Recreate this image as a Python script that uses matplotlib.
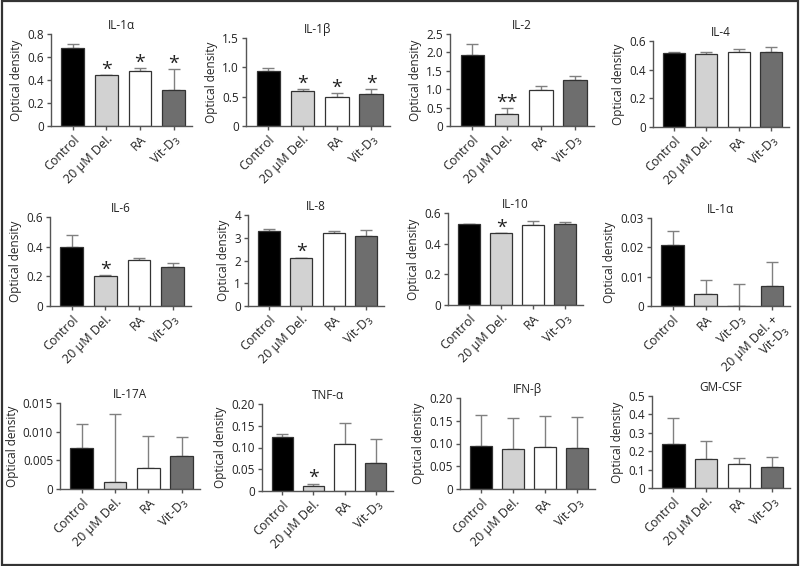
import matplotlib
matplotlib.use("Agg")
import matplotlib.pyplot as plt
from matplotlib.patches import Rectangle

plt.rcParams['font.family'] = ['Open Sans', 'DejaVu Sans']

# ---- data ----
groups = ['Control', '20 μM Del.', 'RA', 'Vit-D$_3$']
groups_alt = ['Control', 'RA', 'Vit-D$_3$', '20 μM Del. +\nVit-D$_3$']

il1a_mean = [0.68, 0.44, 0.48, 0.315]
il1a_err = [0.035, 0.0, 0.025, 0.18]
il1a_sig = ['', '*', '*', '*']

il1b_mean = [0.94, 0.60, 0.50, 0.55]
il1b_err = [0.05, 0.025, 0.06, 0.08]
il1b_sig = ['', '*', '*', '*']

il2_mean = [1.94, 0.32, 0.97, 1.25]
il2_err = [0.30, 0.16, 0.11, 0.10]
il2_sig = ['', '**', '', '']

il4_mean = [0.515, 0.512, 0.523, 0.523]
il4_err = [0.005, 0.014, 0.024, 0.035]

il6_mean = [0.40, 0.20, 0.31, 0.26]
il6_err = [0.08, 0.008, 0.016, 0.03]
il6_sig = ['', '*', '', '']

il8_mean = [3.28, 2.12, 3.21, 3.07]
il8_err = [0.09, 0.0, 0.08, 0.25]
il8_sig = ['', '*', '', '']

il10_mean = [0.53, 0.469, 0.522, 0.528]
il10_err = [0.0, 0.0, 0.026, 0.013]
il10_sig = ['', '*', '', '']

il1a2_mean = [0.0209, 0.004, 0.0, 0.0067]
il1a2_err = [0.0047, 0.005, 0.0075, 0.0083]

il17a_mean = [0.0071, 0.0013, 0.0036, 0.0057]
il17a_err = [0.0042, 0.0118, 0.0056, 0.0033]

tnfa_mean = [0.123, 0.0107, 0.107, 0.0636]
tnfa_err = [0.007, 0.0062, 0.049, 0.057]
tnfa_sig = ['', '*', '', '']

ifnb_mean = [0.095, 0.087, 0.092, 0.091]
ifnb_err = [0.067, 0.069, 0.069, 0.067]

gmcsf_mean = [0.237, 0.156, 0.13, 0.112]
gmcsf_err = [0.141, 0.098, 0.032, 0.055]

colors = ['#000000', '#d2d2d2', '#ffffff', '#6e6e6e']

# panel layout in pixels: (left, right, top, bottom)
W, H = 800, 566
panels = [
    ('IL-1α', groups, il1a_mean, il1a_err, il1a_sig, [0, 0.2, 0.4, 0.6, 0.8], ['0', '0.2', '0.4', '0.6', '0.8'], (51, 192, 34, 126)),
    ('IL-1β', groups, il1b_mean, il1b_err, il1b_sig, [0, 0.5, 1.0, 1.5], ['0', '0.5', '1.0', '1.5'], (246, 390, 38, 126)),
    ('IL-2', groups, il2_mean, il2_err, il2_sig, [0, 0.5, 1.0, 1.5, 2.0, 2.5], ['0', '0.5', '1.0', '1.5', '2.0', '2.5'], (450, 594, 34, 126)),
    ('IL-4', groups, il4_mean, il4_err, None, [0, 0.2, 0.4, 0.6], ['0', '0.2', '0.4', '0.6'], (653, 789, 41, 127)),
    ('IL-6', groups, il6_mean, il6_err, il6_sig, [0, 0.2, 0.4, 0.6], ['0', '0.2', '0.4', '0.6'], (50, 191, 217, 306)),
    ('IL-8', groups, il8_mean, il8_err, il8_sig, [0, 1, 2, 3, 4], ['0', '1', '2', '3', '4'], (248, 384, 215, 306)),
    ('IL-10', groups, il10_mean, il10_err, il10_sig, [0, 0.2, 0.4, 0.6], ['0', '0.2', '0.4', '0.6'], (448, 583, 213, 305)),
    ('IL-1α', groups_alt, il1a2_mean, il1a2_err, None, [0, 0.01, 0.02, 0.03], ['0', '0.01', '0.02', '0.03'], (651, 790, 218, 306)),
    ('IL-17A', groups, il17a_mean, il17a_err, None, [0, 0.005, 0.010, 0.015], ['0', '0.005', '0.010', '0.015'], (60, 200, 403, 489)),
    ('TNF-α', groups, tnfa_mean, tnfa_err, tnfa_sig, [0, 0.05, 0.10, 0.15, 0.20], ['0', '0.05', '0.10', '0.15', '0.20'], (262, 393, 404, 491)),
    ('IFN-β', groups, ifnb_mean, ifnb_err, None, [0, 0.05, 0.10, 0.15, 0.20], ['0', '0.05', '0.10', '0.15', '0.20'], (460, 595, 398, 489)),
    ('GM-CSF', groups, gmcsf_mean, gmcsf_err, None, [0, 0.1, 0.2, 0.3, 0.4, 0.5], ['0', '0.1', '0.2', '0.3', '0.4', '0.5'], (652, 790, 396, 488)),
]

fig = plt.figure(figsize=(8, 5.66), dpi=100)
fig.patch.set_facecolor('white')

axis_col = '#555555'
text_col = '#222222'

for title, cats, means, errs, sig, yticks, ylabels, (l, r, t, b) in panels:
    ax = fig.add_axes([l / W, 1 - b / H, (r - l) / W, (b - t) / H])
    x = range(len(cats))
    ax.bar(x, means, width=0.68, color=colors, edgecolor='#333333', linewidth=0.9, zorder=2)
    ax.errorbar(x, means, yerr=[[0] * len(errs), errs], fmt='none', ecolor='#808080',
                elinewidth=1.0, capsize=4, capthick=1.0, zorder=1)
    if sig:
        for i, s in enumerate(sig):
            if s:
                ax.annotate(s, (i, means[i] + errs[i]), xytext=(0, -2.5), textcoords='offset points',
                            ha='center', va='bottom', fontsize=14, color=text_col)
    ax.set_xlim(-0.65, 3.55)
    ax.set_ylim(0, yticks[-1])
    ax.set_yticks(yticks)
    ax.set_yticklabels(ylabels, fontsize=8.5, color=text_col)
    ax.set_xticks(list(x))
    ax.set_xticklabels(cats, rotation=45, ha='right', rotation_mode='anchor', fontsize=9, color=text_col)
    ax.set_ylabel('Optical density', fontsize=8.5, color=text_col, labelpad=3)
    ax.set_title(title, fontsize=8.5, color=text_col, pad=3.5)
    for side in ['top', 'right']:
        ax.spines[side].set_visible(False)
    for side in ['left', 'bottom']:
        ax.spines[side].set_color(axis_col)
        ax.spines[side].set_linewidth(1.0)
    ax.tick_params(axis='both', colors=axis_col, length=3, width=1.0, labelcolor=text_col, pad=2)

# outer frame
fig.add_artist(Rectangle((0.002, 0.002), 0.996, 0.996, transform=fig.transFigure,
                         fill=False, edgecolor='#333333', linewidth=1.6))

fig.savefig('out.png', dpi=100)
